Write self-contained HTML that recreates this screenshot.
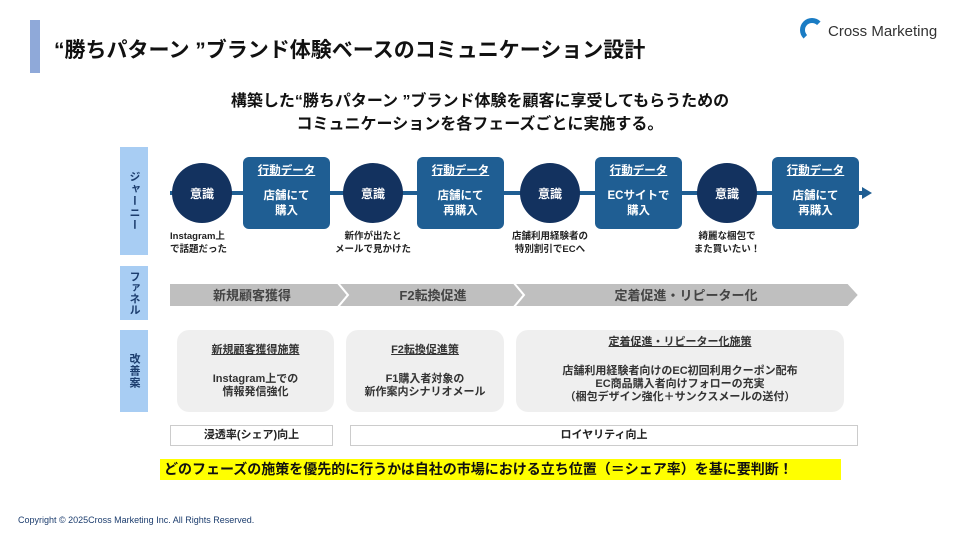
<!DOCTYPE html>
<html><head><meta charset="utf-8"><style>
*{margin:0;padding:0;box-sizing:border-box}
body{width:960px;height:540px;background:#fff;position:relative;overflow:hidden;font-family:"Liberation Sans","Noto Sans CJK JP",sans-serif;color:#222}
.a{position:absolute}
.lab{position:absolute;left:120px;width:28px;background:#a8cdf3;color:#1c3d6e;font-weight:bold;font-size:11px;line-height:14px;display:flex;align-items:center;justify-content:center;writing-mode:vertical-rl;letter-spacing:1px}
.circ{position:absolute;width:60px;height:60px;border-radius:50%;background:#13325f;color:#fff;font-weight:bold;font-size:12px;display:flex;align-items:center;justify-content:center;top:163px}
.box{position:absolute;top:157px;height:72px;background:#1f5e93;border-radius:6px;color:#fff;font-weight:bold;font-size:11.5px;text-align:center;line-height:15px;padding-top:7px}
.box u{display:block;margin-bottom:10px}
.cap{position:absolute;top:230px;font-size:9.5px;font-weight:bold;text-align:center;line-height:13px;width:110px}
.imp{position:absolute;top:330px;height:82px;background:#efefef;border-radius:12px;text-align:center;font-size:11px;line-height:13px;color:#333;font-weight:bold}
.bt{position:absolute;top:425px;height:21px;border:1px solid #ccc;background:#fff;font-size:11px;font-weight:bold;text-align:center;line-height:19px}
</style></head><body>
<div class="a" style="left:30px;top:20px;width:10px;height:53px;background:#8fa9d9"></div>
<div class="a" style="left:54px;top:34px;font-size:21px;font-weight:bold;color:#111">“勝ちパターン ”ブランド体験ベースのコミュニケーション設計</div>
<div class="a" style="left:800px;top:18px;width:24px;height:24px;border-radius:50%;border:5px solid #1a7cc4;border-right-color:transparent;border-bottom-color:transparent"></div>
<div class="a" style="left:828px;top:23px;font-size:15px;color:#333">Cross Marketing</div>
<div class="a" style="left:0;width:960px;top:90px;text-align:center;font-size:16px;font-weight:bold;line-height:23px;color:#111">構築した“勝ちパターン ”ブランド体験を顧客に享受してもらうための<br>コミュニケーションを各フェーズごとに実施する。</div>

<div class="lab" style="top:147px;height:108px">ジャーニー</div>
<div class="lab" style="top:266px;height:54px;letter-spacing:0">ファネル</div>
<div class="lab" style="top:330px;height:82px">改善案</div>

<div class="a" style="left:170px;top:191px;width:694px;height:4px;background:#1f5e93"></div>
<div class="a" style="left:862px;top:187px;width:0;height:0;border-left:10px solid #1f5e93;border-top:6px solid transparent;border-bottom:6px solid transparent"></div>

<div class="circ" style="left:172px">意識</div>
<div class="circ" style="left:343px">意識</div>
<div class="circ" style="left:520px">意識</div>
<div class="circ" style="left:697px">意識</div>
<div class="box" style="left:243px;width:87px"><u>行動データ</u>店舗にて<br>購入</div>
<div class="box" style="left:417px;width:87px"><u>行動データ</u>店舗にて<br>再購入</div>
<div class="box" style="left:595px;width:87px"><u>行動データ</u>ECサイトで<br>購入</div>
<div class="box" style="left:772px;width:87px"><u>行動データ</u>店舗にて<br>再購入</div>
<div class="cap" style="text-align:left;left:170px">Instagram上<br>で話題だった</div>
<div class="cap" style="left:318px">新作が出たと<br>メールで見かけた</div>
<div class="cap" style="left:495px">店舗利用経験者の<br>特別割引でECへ</div>
<div class="cap" style="left:672px">綺麗な梱包で<br>また買いたい！</div>

<svg class="a" style="left:168px;top:281px" width="694" height="28">
<polygon points="1,2 170,2 180,14 170,26 1,26" fill="#bfbfbf" stroke="#fff" stroke-width="2"/>
<polygon points="170,2 346,2 356,14 346,26 170,26 180,14" fill="#bfbfbf" stroke="#fff" stroke-width="2"/>
<polygon points="346,2 680,2 691,14 680,26 346,26 356,14" fill="#bfbfbf" stroke="#fff" stroke-width="2"/>
<text x="84" y="19" text-anchor="middle" font-size="13" fill="#444" font-weight="bold">新規顧客獲得</text>
<text x="265" y="19" text-anchor="middle" font-size="13" fill="#444" font-weight="bold">F2転換促進</text>
<text x="518" y="19" text-anchor="middle" font-size="13" fill="#444" font-weight="bold">定着促進・リピーター化</text>
</svg>

<div class="imp" style="left:177px;width:157px;padding-top:14px"><u>新規顧客獲得施策</u><div style="margin-top:16px">Instagram上での<br>情報発信強化</div></div>
<div class="imp" style="left:346px;width:158px;padding-top:14px"><u>F2転換促進策</u><div style="margin-top:16px">F1購入者対象の<br>新作案内シナリオメール</div></div>
<div class="imp" style="left:516px;width:328px;padding-top:6px"><u>定着促進・リピーター化施策</u><div style="margin-top:16px">店舗利用経験者向けのEC初回利用クーポン配布<br>EC商品購入者向けフォローの充実<br>（梱包デザイン強化＋サンクスメールの送付）</div></div>

<div class="bt" style="left:170px;width:163px">浸透率(シェア)向上</div>
<div class="bt" style="left:350px;width:508px">ロイヤリティ向上</div>

<div class="a" style="left:160px;top:459px;width:681px;height:21px;background:#ffff00;font-size:14px;font-weight:bold;line-height:21px;padding-left:4px;color:#111">どのフェーズの施策を優先的に行うかは自社の市場における立ち位置（＝シェア率）を基に要判断！</div>
<div class="a" style="left:18px;top:515px;font-size:9px;color:#1c3d6e">Copyright © 2025Cross Marketing Inc. All Rights Reserved.</div>
</body></html>
